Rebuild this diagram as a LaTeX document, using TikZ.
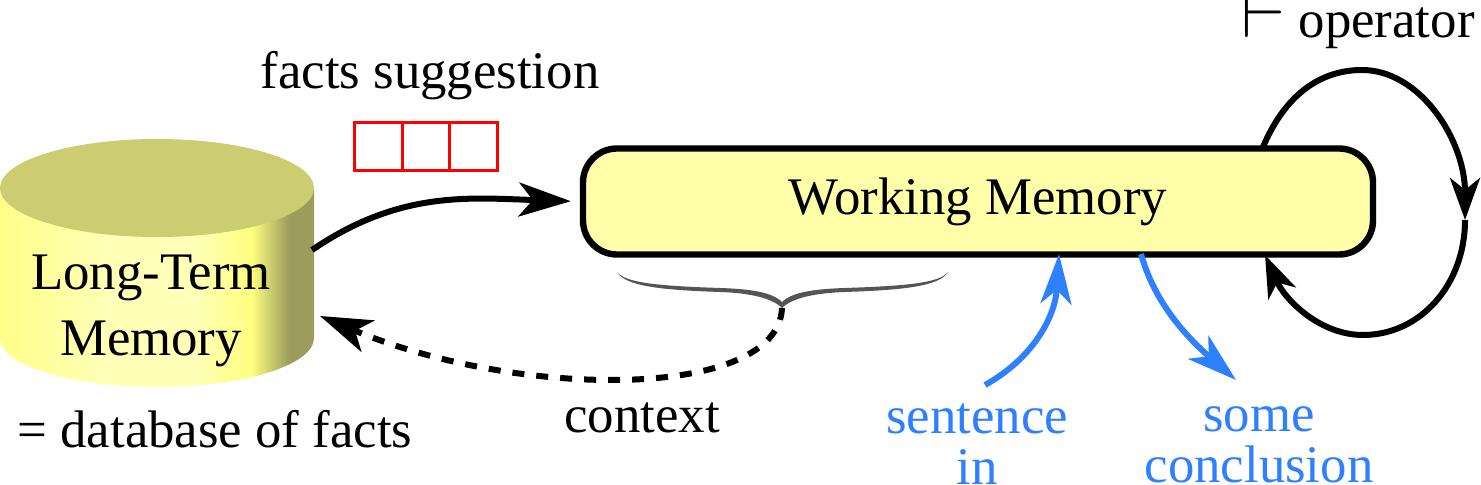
\documentclass[tikz,border=0pt]{standalone}
\usepackage{fontspec}
\setmainfont{Liberation Serif}
\usetikzlibrary{matrix,arrows.meta}
\definecolor{blueflow}{HTML}{2F80FF}
\definecolor{wmfill}{HTML}{FFFFAA}
\definecolor{disktop}{HTML}{CCCC70}
\definecolor{bracegray}{HTML}{555555}
\definecolor{sideleft}{HTML}{FFFF88}
\definecolor{sidemid}{HTML}{FFFFB8}
\definecolor{sidebright}{HTML}{FFFF80}
\definecolor{sidedark}{HTML}{9C9C5C}
\pgfdeclarehorizontalshading{ltmside}{100bp}{color(0bp)=(sideleft);
  color(25bp)=(sideleft); color(42bp)=(sidemid); color(56bp)=(sidemid);
  color(65bp)=(sidebright); color(71bp)=(sidedark); color(100bp)=(sidedark)}
\tikzset{
  txt/.style={font=\fontsize{26.4}{33}\selectfont,anchor=base,align=center},
  bluetxt/.style={txt,text=blueflow,font=\fontsize{26.4}{25.4}\selectfont},
  flow/.style={line width=3pt,-{Stealth[length=26pt,width=17pt,inset=7pt]}},
  looptip/.style={flow,-{Stealth[length=21pt,width=15pt,inset=6pt]}},
  blueflowline/.style={flow,draw=blueflow,-{Stealth[length=25pt,width=15.5pt,inset=7pt]}},
}
\begin{document}
\begin{tikzpicture}[x=0.5pt,y=-0.5pt]
  \useasboundingbox (0,0) rectangle (1481,485);
  \shade[shading=ltmside] (0,188) -- (0,338) arc[x radius=157,y radius=49,start angle=180,end angle=0] -- (314,188) -- cycle;
  \fill[disktop] (157,188) ellipse[x radius=157,y radius=49];
  \node (ltm) [txt] at (151,356) {Long-Term\\Memory};
  \node (wm) [draw,fill=wmfill,line width=3.2pt,rounded corners=17pt,minimum width=395pt,minimum height=53pt,font=\fontsize{26.4}{33}\selectfont] at (978,201.5) {Working Memory};
  \matrix (m) [matrix of nodes,nodes in empty cells,column sep=-1.5pt,
    nodes={draw=red,line width=1.5pt,minimum width=23.8pt,minimum height=24pt,inner sep=0pt}] at (426,147) {
     & & \\};
  \node (sugg) [txt] at (430,89) {facts suggestion};
  \node (db) [txt] at (215,448) {= database of facts};
  \node (ctx) [txt] at (642,433) {context};
  \node (sent) [bluetxt] at (977,484) {sentence\\in};
  \node (concl) [bluetxt] at (1259,482) {some\\conclusion};
  \node (oper) [txt] at (1358,38) {\scalebox{1.45}{$\vdash$}\ operator};
  \coordinate (ltmout) at (312,250);
  \coordinate (ltmin) at (320,316);
  \coordinate (bracetip) at (782,308);
  \coordinate (loopr) at (1465,220);
  \coordinate (wmtop) at (1263,147);
  \coordinate (wmbot) at (1265,255);
  \coordinate (sentout) at (985,385);
  \coordinate (wmsent) at (1059,254);
  \coordinate (wmconcl) at (1141,254);
  \coordinate (conclin) at (1236,380);
  \fill[bracegray] (617,272) .. controls (625,286) and (660,290) .. (720,292)
    .. controls (750,293) and (772,298) .. (782,308)
    .. controls (792,298) and (815,293) .. (845,292)
    .. controls (905,290) and (940,286) .. (948,272)
    .. controls (940,283) and (905,286) .. (845,288)
    .. controls (815,289) and (792,292) .. (782,302)
    .. controls (772,292) and (750,289) .. (720,288)
    .. controls (660,286) and (625,283) .. (617,272) -- cycle;
  \draw[flow,shorten >=4.5pt] (ltmout) .. controls (400,190) and (470,198) .. (wm.west);
  \draw[flow,dash pattern=on 6pt off 6pt] (bracetip) .. controls (778,400) and (520,400) .. (ltmin);
  \draw[looptip] (wmtop) .. controls (1285,95) and (1320,70) .. (1362,70) .. controls (1420,70) and (1465,140) .. (loopr);
  \draw[looptip] (loopr) .. controls (1465,285) and (1420,335) .. (1363,335) .. controls (1320,335) and (1285,300) .. (wmbot);
  \draw[blueflowline] (sentout) .. controls (1030,360) and (1055,320) .. (wmsent);
  \draw[blueflowline] (wmconcl) .. controls (1155,305) and (1190,340) .. (conclin);
\end{tikzpicture}
\end{document}
